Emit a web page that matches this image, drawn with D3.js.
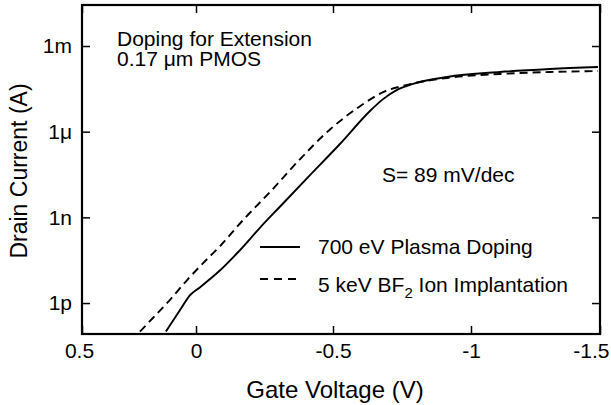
<!DOCTYPE html>
<html>
<head>
<meta charset="utf-8">
<script src="https://cdn.jsdelivr.net/npm/d3@7"></script>
<style>
  body { margin: 0; background: #fff; }
  svg { display: block; font-family: "Liberation Sans", Arial, sans-serif; }
</style>
</head>
<body>
<div id="chart"></div>
<script>
// gate voltage (V) / drain current (A)
const plasmaVg = [0.132, 0.070, 0.026, -0.015, -0.088, -0.161, -0.234, -0.307, -0.416, -0.525, -0.634, -0.678, -0.732, -0.790, -0.913, -1.112, -1.306, -1.492];
const plasmaId = [1.0e-13, 5.7e-13, 1.9e-12, 3.6e-12, 1.4e-11, 7.2e-11, 4.4e-10, 2.4e-9, 3.0e-8, 3.7e-7, 5.3e-6, 1.3e-5, 2.9e-5, 4.7e-5, 8.2e-5, 1.23e-4, 1.57e-4, 1.84e-4];

const bf2Vg = [0.246, 0.189, 0.114, 0.039, -0.026, -0.088, -0.172, -0.270, -0.380, -0.489, -0.598, -0.688, -0.743, -0.790, -0.913, -1.112, -1.306, -1.492];
const bf2Id = [1.0e-13, 3.0e-13, 1.3e-12, 6.4e-12, 2.5e-11, 9.9e-11, 8.1e-10, 7.7e-9, 1.1e-7, 1.2e-6, 7.8e-6, 2.6e-5, 3.8e-5, 4.9e-5, 7.6e-5, 1.05e-4, 1.23e-4, 1.33e-4];

const xTicks = [0.5, 0, -0.5, -1, -1.5];
const xTickLabels = ['0.5', '0', '-0.5', '-1', '-1.5'];
const yTicks = [1e-12, 1e-9, 1e-6, 1e-3];
const yTickLabels = ['1p', '1n', '1\u03bc', '1m'];
const legendNames = ['700 eV Plasma Doping', '5 keV BF2 Ion Implantation'];

const width = 611, height = 405;
const margin = { top: 5, right: 11, bottom: 71, left: 82 };
const innerWidth = width - margin.left - margin.right;
const innerHeight = height - margin.top - margin.bottom;

const svg = d3.select('#chart')
  .append('svg')
  .attr('width', width)
  .attr('height', height)
  .style('background-color', '#fff');

const g = svg.append('g')
  .attr('transform', `translate(${margin.left},${margin.top})`);

// the scanned axis is not evenly spaced, so the x scale is piecewise
const x = d3.scaleLinear()
  .domain(xTicks)
  .range([0, 114, 251, 389, 518]);
const y = d3.scaleLog()
  .domain([8.24e-14, 2.73e-2])
  .range([innerHeight, 0]);

// axes, ticks pointing inwards
const tickLen = 8;
const fmtX = d => xTickLabels[xTicks.indexOf(d)];
const fmtY = d => yTickLabels[yTicks.indexOf(d)];

const styleAxis = sel => {
  sel.select('.domain').remove();
  sel.attr('font-family', null).attr('font-size', null);
  sel.selectAll('line').attr('stroke', '#000').attr('stroke-width', 1.5);
  sel.selectAll('text').attr('fill', '#000').style('font-size', '21px');
};

const xAxis = g.append('g')
  .attr('transform', `translate(0,${innerHeight})`)
  .call(d3.axisBottom(x).tickValues(xTicks).tickFormat(fmtX).tickSize(-tickLen).tickPadding(9))
  .call(styleAxis);
// end labels sit a little inwards/against the edge, like the original
xAxis.selectAll('.tick text')
  .filter(d => d === -1.5)
  .attr('text-anchor', 'end')
  .attr('x', 9);
xAxis.selectAll('.tick text')
  .filter(d => d === 0.5)
  .attr('x', -3);

g.append('g')
  .call(d3.axisTop(x).tickValues(xTicks).tickSize(-tickLen))
  .call(styleAxis)
  .selectAll('text').remove();
g.append('g')
  .call(d3.axisLeft(y).tickValues(yTicks).tickFormat(fmtY).tickSize(-tickLen).tickPadding(10))
  .call(styleAxis);
g.append('g')
  .attr('transform', `translate(${innerWidth},0)`)
  .call(d3.axisRight(y).tickValues(yTicks).tickSize(-tickLen))
  .call(styleAxis)
  .selectAll('text').remove();

// frame
g.append('rect')
  .attr('width', innerWidth)
  .attr('height', innerHeight)
  .attr('fill', 'none')
  .attr('stroke', '#000')
  .attr('stroke-width', 2.2);

// curves
g.append('clipPath')
  .attr('id', 'plotClip')
  .append('rect')
  .attr('width', innerWidth)
  .attr('height', innerHeight);

const line = d3.line()
  .x(d => x(d[0]))
  .y(d => y(d[1]))
  .curve(d3.curveMonotoneX);

const series = [
  { vg: plasmaVg, id: plasmaId, dash: null },
  { vg: bf2Vg, id: bf2Id, dash: '8,5' }
];

g.append('g')
  .attr('clip-path', 'url(#plotClip)')
  .selectAll('path')
  .data(series)
  .join('path')
  .attr('d', s => line(d3.zip(s.vg, s.id)))
  .attr('fill', 'none')
  .attr('stroke', '#000')
  .attr('stroke-width', 1.9)
  .attr('stroke-dasharray', s => s.dash);

// annotations
const note = svg.append('g')
  .style('font-size', '21px')
  .attr('fill', '#000');
note.append('text').attr('x', 117).attr('y', 46).text('Doping for Extension');
note.append('text').attr('x', 117).attr('y', 66).text('0.17 \u03bcm PMOS');
note.append('text').attr('x', 382).attr('y', 182).text('S= 89 mV/dec');

// legend
const legend = svg.append('g').style('font-size', '21px');
const legendRows = [
  { name: legendNames[0], dash: null, ly: 247, ty: 254 },
  { name: legendNames[1], dash: '8,6', ly: 279, ty: 292 }
];
legend.selectAll('line')
  .data(legendRows)
  .join('line')
  .attr('x1', 260).attr('x2', 300)
  .attr('y1', d => d.ly).attr('y2', d => d.ly)
  .attr('stroke', '#000')
  .attr('stroke-width', 1.9)
  .attr('stroke-dasharray', d => d.dash);

legend.append('text')
  .attr('x', 318).attr('y', legendRows[0].ty)
  .text(legendRows[0].name);

// BF2 with a subscript 2
const t2 = legend.append('text')
  .attr('x', 318).attr('y', legendRows[1].ty);
const parts = legendRows[1].name.split('BF2');
t2.append('tspan').text(parts[0] + 'BF');
t2.append('tspan').attr('dy', 6).style('font-size', '15px').text('2');
t2.append('tspan').attr('dy', -6).text(parts[1]);

// axis titles
svg.append('text')
  .attr('x', 335)
  .attr('y', 398)
  .attr('text-anchor', 'middle')
  .style('font-size', '24px')
  .text('Gate Voltage (V)');

svg.append('text')
  .attr('transform', 'translate(27,171) rotate(-90)')
  .attr('text-anchor', 'middle')
  .style('font-size', '23px')
  .text('Drain Current (A)');
</script>
</body>
</html>
